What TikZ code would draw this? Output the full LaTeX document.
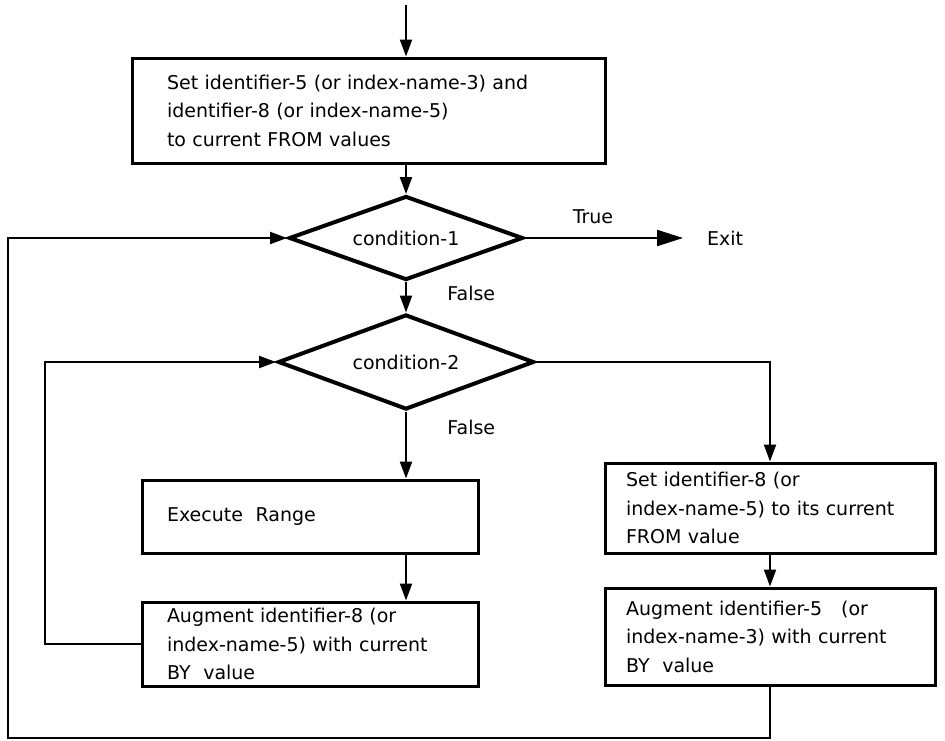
\documentclass[tikz,border=0pt]{standalone}
\usepackage{fontspec}
\setmainfont{DejaVu Sans}
\usepackage{tikz}
\usetikzlibrary{shapes.geometric,arrows.meta}

\begin{document}
\begin{tikzpicture}[x=1pt, y=-1pt, >={Triangle[length=17pt,width=12pt]},
    every node/.style={font=\fontsize{19}{28.5}\selectfont},
    box/.style={rectangle, draw, line width=3pt, align=left, inner ysep=2pt},
    cond/.style={diamond, draw, line width=4pt, inner sep=0pt, aspect=2.7},
    flow/.style={line width=2.2pt}]
    \useasboundingbox (0,0) rectangle (945,740);

    \node[box, minimum width=473pt, minimum height=105pt, text width=403pt, inner xsep=35pt] (init) at (368.5,110.5) {Set identifier-5 (or index-name-3) and\\ identifier-8 (or index-name-5)\\ to current FROM values};
    \node[cond, minimum width=234pt, minimum height=84pt] (c1) at (406,238) {condition-1};
    \node[cond, minimum width=256pt, minimum height=95pt] (c2) at (406,362) {condition-2};
    \node[box, minimum width=336pt, minimum height=73pt, text width=286pt, inner xsep=25pt] (exec) at (310,516.5) {Execute\ \ Range};
    \node[box, minimum width=336pt, minimum height=84pt, text width=286pt, inner xsep=25pt] (aug1) at (310,644) {Augment identifier-8 (or\\ index-name-5) with current\\ BY\ \ value};
    \node[box, minimum width=330pt, minimum height=90pt, text width=288pt, inner xsep=21pt] (set2) at (770,508) {Set identifier-8 (or\\ index-name-5) to its current\\ FROM value};
    \node[box, minimum width=330pt, minimum height=97pt, text width=288pt, inner xsep=21pt] (aug2) at (770,636.5) {Augment identifier-5\quad(or\\ index-name-3) with current\\ BY\ \ value};
    \node[anchor=west, inner xsep=24pt, inner ysep=0pt] (exit) at (683,238) {Exit};

    \coordinate (start) at (406,5);
    \coordinate (back2) at (45,0);
    \coordinate (back1) at (8,738);

    \draw[flow,->] (start) -- (start |- init.north);
    \draw[flow,->] (init.south -| c1) -- (c1.north);
    \draw[flow,-{Triangle[length=26pt,width=16pt]}] (c1.east) -- (exit.west) node[pos=0.43, above=10pt] {True};
    \draw[flow,->] (c1.south) -- (c2.north) node[pos=0.36, right=37pt] {False};
    \draw[flow,->] (c2.south) -- (c2.south |- exec.north) node[pos=0.24, right=37pt] {False};
    \draw[flow,->] (exec.south -| c2) -- (aug1.north -| c2);
    \draw[flow,->] (c2.east) -| (set2.north);
    \draw[flow,->] (set2.south) -- (aug2.north);
    \draw[flow,->] (aug1.west) -- (aug1.west -| back2) |- (c2.west);
    \draw[flow,->] (aug2.south) |- (back1) |- (c1.west);
\end{tikzpicture}
\end{document}
